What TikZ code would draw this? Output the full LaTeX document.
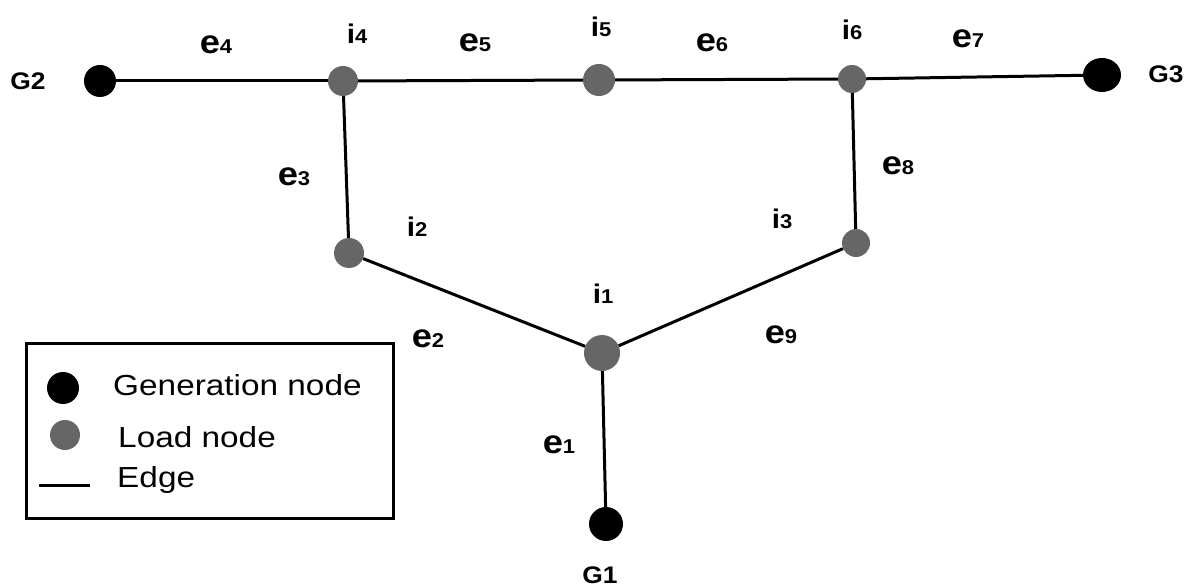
\documentclass[tikz,border=0pt]{standalone}
\usepackage{fontspec}
\setmainfont{Liberation Sans}
\usetikzlibrary{shapes.geometric}
\definecolor{loadgray}{RGB}{102,102,102}
\newcommand{\elab}[1]{{\fontsize{33}{34}\selectfont\bfseries e}{\fontsize{20}{21}\selectfont\bfseries #1}}
\newcommand{\ilab}[1]{{\fontsize{27}{28}\selectfont\bfseries i}{\fontsize{20}{21}\selectfont\bfseries #1}}
\begin{document}
\begin{tikzpicture}[x=1pt,y=-1pt,
  gen/.style={circle, fill=black, inner sep=0pt, minimum size=32pt},
  load/.style={circle, fill=loadgray, inner sep=0pt, minimum size=30pt},
  lab/.style={anchor=base, inner sep=0pt, xscale=1.1},
  glab/.style={anchor=base, inner sep=0pt, xscale=1.1, font=\fontsize{24}{26}\selectfont\bfseries},
  legtxt/.style={anchor=base west, inner sep=0pt, xscale=1.15, font=\fontsize{29}{31}\selectfont},
  edgeline/.style={line width=3pt, black}]
\useasboundingbox (0,0) rectangle (1195,588);
\fill[white] (0,0) rectangle (1195,588);
% graph nodes
\node[gen] (G2) at (100,81) {};
\node[load] (i4) at (343,81) {};
\node[load, minimum size=32pt] (i5) at (599,80) {};
\node[load, minimum size=28pt] (i6) at (852,79) {};
\node[ellipse, fill=black, inner sep=0pt, minimum width=38pt, minimum height=34pt] (G3) at (1102,75) {};
\node[load] (i2) at (349,253) {};
\node[load, minimum size=28pt] (i3) at (856,243) {};
\node[load, minimum size=36pt] (i1) at (602,353) {};
\node[gen, minimum size=34pt] (G1) at (606,524) {};
% edges
\draw[edgeline] (G2) -- (i4);
\draw[edgeline] (i4) -- (i5);
\draw[edgeline] (i5) -- (i6);
\draw[edgeline] (i6) -- (G3);
\draw[edgeline] (i4) -- (i2);
\draw[edgeline] (i2) -- (i1);
\draw[edgeline] (i1) -- (i3);
\draw[edgeline] (i3) -- (i6);
\draw[edgeline] (i1) -- (G1);
% labels
\node[glab] (lG2) at (28,90) {G2};
\node[glab] (lG3) at (1166,83) {G3};
\node[glab] (lG1) at (600,583) {G1};
\node[lab] (le4) at (216,54) {\elab{4}};
\node[lab] (li4) at (357,44) {\ilab{4}};
\node[lab] (le5) at (475,52) {\elab{5}};
\node[lab] (li5) at (601,37) {\ilab{5}};
\node[lab] (le6) at (712,52) {\elab{6}};
\node[lab] (li6) at (852,40) {\ilab{6}};
\node[lab] (le7) at (968,48) {\elab{7}};
\node[lab] (le3) at (294,186) {\elab{3}};
\node[lab] (li2) at (417,237) {\ilab{2}};
\node[lab] (le8) at (898,175) {\elab{8}};
\node[lab] (li3) at (782,229) {\ilab{3}};
\node[lab] (li1) at (603,304) {\ilab{1}};
\node[lab] (le2) at (428,348) {\elab{2}};
\node[lab] (le9) at (781,343) {\elab{9}};
\node[lab] (le1) at (559,453) {\elab{1}};
% legend
\node[draw, line width=3pt, inner sep=0pt, minimum width=367pt, minimum height=175pt, anchor=north west] (legend) at (25,342) {};
\node[gen] (lgen) at (63,388) {};
\node[legtxt] (tgen) at (113,395) {Generation node};
\node[load] (lload) at (65,435) {};
\node[legtxt] (tload) at (118,447) {Load node};
\coordinate (ledgeA) at (39,485);
\coordinate (ledgeB) at (90,485);
\draw[edgeline] (ledgeA) -- (ledgeB);
\node[legtxt] (tedge) at (117,487) {Edge};
\end{tikzpicture}
\end{document}
